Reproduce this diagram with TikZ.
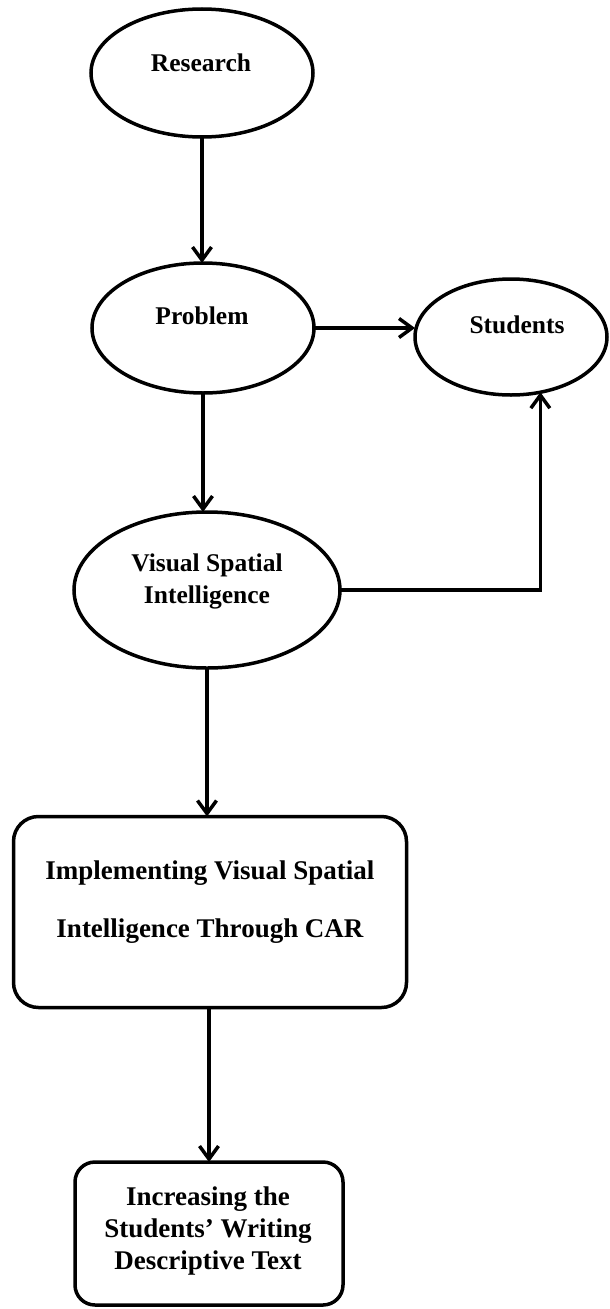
\documentclass[tikz,border=0pt]{standalone}
\usepackage{fontspec}
\setmainfont{Liberation Serif}
\usetikzlibrary{arrows.meta,shapes.geometric}
\tikzset{
  shapeline/.style={draw=black, line width=3.5pt, inner sep=0pt, outer sep=0pt},
  ell/.style={shapeline, ellipse},
  rbox/.style={shapeline, rectangle, rounded corners=#1},
  etext/.style={anchor=base, inner sep=0pt, font=\fontsize{25.5}{30}\selectfont\bfseries},
  btext/.style={anchor=base, inner sep=0pt, font=\fontsize{27}{32}\selectfont\bfseries},
  arr/.style={line width=3.5pt, -{Straight Barb[length=13pt,width=19pt,line width=3.5pt]}}
}
\begin{document}
\begin{tikzpicture}[x=1pt,y=-1pt]
\useasboundingbox (0,0) rectangle (610,1309);
% shapes
\node[ell, minimum width=222pt, minimum height=128pt] (res) at (202,73) {};
\node[ell, minimum width=222pt, minimum height=130pt] (prob) at (203,328) {};
\node[ell, minimum width=192pt, minimum height=116pt] (stu) at (511,337) {};
\node[ell, minimum width=266pt, minimum height=156pt] (vsi) at (207,590) {};
\node[rbox=25pt, minimum width=393pt, minimum height=191pt] (car) at (210,912) {};
\node[rbox=20pt, minimum width=268pt, minimum height=143pt] (inc) at (209,1233.5) {};
% texts
\node[etext] (resT) at (201,71) {Research};
\node[etext] (probT) at (202,324) {Problem};
\node[etext] (stuT) at (517,333) {Students};
\node[etext] (vsiT1) at (207,571) {Visual Spatial};
\node[etext] (vsiT2) at (207,603) {Intelligence};
\node[btext] (carT1) at (210,879) {Implementing Visual Spatial};
\node[btext] (carT2) at (210,937) {Intelligence Through CAR};
\node[btext] (incT1) at (208,1205) {Increasing the};
\node[btext] (incT2) at (208,1237) {Students’ Writing};
\node[btext] (incT3) at (208,1269) {Descriptive Text};
% connectors
\draw[arr] (res.south) -- (res.south |- prob.north);
\draw[arr] (prob.east) -- (prob.east -| stu.west);
\draw[arr] (prob.south) -- (prob.south |- vsi.north);
\draw[arr] (vsi.east) -| (stu.-62);
\draw[arr] (vsi.south) -- (vsi.south |- car.north);
\draw[arr] (inc.north |- car.south) -- (inc.north);
\end{tikzpicture}
\end{document}
